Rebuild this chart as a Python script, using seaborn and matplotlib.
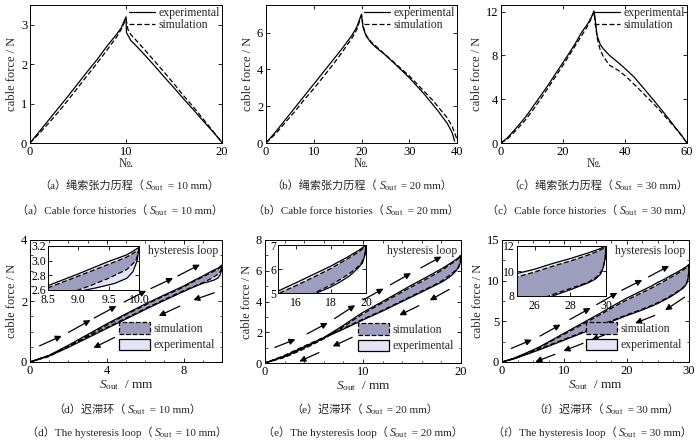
import numpy as np
import matplotlib
matplotlib.use('Agg')
import matplotlib.pyplot as plt
import seaborn as sns
from matplotlib.patches import Patch
from matplotlib.lines import Line2D
from matplotlib.offsetbox import TextArea, HPacker, AnchoredOffsetbox
from matplotlib.ticker import MultipleLocator, FormatStrFormatter

# ---------------- data: cable force histories ----------------
a_exp_x = [0, 1, 2, 3, 4, 5, 6, 7, 8, 9, 9.5, 10, 10.05, 10.5, 11, 12, 13, 14, 15, 16, 17, 18, 19, 19.8, 20]
a_exp_y = [0, 0.3, 0.6, 0.9, 1.2, 1.51, 1.82, 2.12, 2.45, 2.75, 2.92, 3.2, 2.8, 2.6, 2.48, 2.22, 1.95, 1.67, 1.4, 1.12, 0.85, 0.57, 0.3, 0.08, 0]
a_sim_x = [0, 1, 2, 3, 4, 5, 6, 7, 8, 9, 9.5, 10, 10.2, 10.5, 11, 12, 13, 14, 15, 16, 17, 18, 19, 20]
a_sim_y = [0, 0.25, 0.52, 0.8, 1.1, 1.41, 1.72, 2.03, 2.35, 2.68, 2.88, 3.15, 2.88, 2.75, 2.62, 2.35, 2.07, 1.79, 1.5, 1.2, 0.92, 0.62, 0.32, 0]

b_exp_x = [0, 2, 4, 6, 8, 10, 12, 14, 16, 18, 19, 20, 20.3, 20.7, 21, 22, 23, 25, 27, 30, 33, 36, 38, 39, 39.5]
b_exp_y = [0, 0.6, 1.25, 1.9, 2.55, 3.2, 3.85, 4.5, 5.15, 5.85, 6.3, 7.0, 6.3, 6.0, 5.8, 5.45, 5.2, 4.78, 4.3, 3.55, 2.7, 1.75, 1.05, 0.55, 0.1]
b_sim_x = [0, 2, 4, 6, 8, 10, 12, 14, 16, 18, 19, 20, 20.3, 20.7, 21, 22, 25, 30, 35, 38, 39, 40]
b_sim_y = [0, 0.5, 1.1, 1.7, 2.35, 2.95, 3.6, 4.25, 4.95, 5.7, 6.15, 6.95, 6.4, 6.05, 5.85, 5.5, 4.8, 3.65, 2.3, 1.35, 0.9, 0.2]

c_exp_x = [0, 2, 5, 8, 10, 12, 15, 18, 20, 22, 24, 26, 28, 29, 30, 30.3, 30.7, 31, 32, 33, 35, 38, 40, 43, 46, 50, 53, 56, 58, 59.5, 60]
c_exp_y = [0, 0.45, 1.4, 2.4, 3.2, 4.0, 5.2, 6.5, 7.35, 8.2, 9.1, 10.1, 10.9, 11.4, 12.05, 11.5, 10.5, 9.8, 9.0, 8.6, 8.0, 7.3, 6.8, 6.0, 5.0, 3.65, 2.6, 1.5, 0.8, 0.2, 0]
c_sim_x = [0, 2, 5, 8, 10, 12, 15, 18, 20, 22, 24, 26, 28, 29, 30, 30.5, 31, 32, 33, 35, 38, 40, 43, 46, 50, 53, 56, 58, 60]
c_sim_y = [0, 0.35, 1.2, 2.15, 2.9, 3.7, 4.95, 6.25, 7.1, 8.0, 8.9, 9.8, 10.7, 11.3, 11.95, 10.8, 9.6, 8.5, 7.9, 7.1, 6.6, 6.15, 5.35, 4.5, 3.35, 2.4, 1.45, 0.75, 0]

# ---------------- data: hysteresis loops ----------------
d_up_x = [0, 1, 2, 3, 4, 5, 6, 7, 8, 8.5, 9, 9.5, 9.8, 10]
d_up_exp = [0, 0.22, 0.55, 0.9, 1.25, 1.58, 1.9, 2.2, 2.49, 2.66, 2.82, 2.99, 3.08, 3.18]
d_up_sim = [0, 0.18, 0.5, 0.86, 1.21, 1.55, 1.87, 2.17, 2.46, 2.63, 2.79, 2.95, 3.05, 3.15]
d_lo_exp_x = [10, 9.97, 9.9, 9.8, 9.6, 9.3, 9.0, 8.5, 8, 7, 6, 5, 4, 3, 2, 1, 0]
d_lo_exp = [3.18, 3.0, 2.85, 2.76, 2.69, 2.63, 2.58, 2.45, 2.31, 2.02, 1.72, 1.41, 1.1, 0.79, 0.48, 0.2, 0]
d_lo_sim_x = [10, 9.95, 9.8, 9.5, 9.2, 9.0, 8.5, 8, 7, 6, 5, 4, 3, 2, 1, 0]
d_lo_sim = [3.15, 3.0, 2.88, 2.76, 2.66, 2.6, 2.47, 2.34, 2.05, 1.75, 1.44, 1.13, 0.82, 0.51, 0.22, 0]

e_up_x = [0, 2, 4, 6, 8, 10, 12, 14, 15, 16, 17, 18, 19, 19.6, 20]
e_up_exp = [0, 0.42, 1.0, 1.65, 2.45, 3.3, 4.0, 4.72, 5.08, 5.42, 5.77, 6.12, 6.52, 6.78, 7.0]
e_up_sim = [0, 0.36, 0.92, 1.57, 2.37, 3.2, 3.92, 4.62, 4.97, 5.3, 5.65, 6.02, 6.45, 6.72, 6.96]
e_lo_exp_x = [20, 19.95, 19.8, 19.5, 19.2, 19, 18.5, 18, 17.2, 16, 14, 12, 10, 8, 6, 4, 2, 0]
e_lo_exp = [7.0, 6.6, 6.25, 6.0, 5.8, 5.68, 5.45, 5.25, 5.0, 4.62, 4.0, 3.38, 2.8, 2.2, 1.62, 1.05, 0.45, 0]
e_lo_sim_x = [20, 19.9, 19.7, 19.4, 19, 18.5, 18, 17, 16, 14, 12, 10, 8, 6, 4, 2, 0]
e_lo_sim = [6.96, 6.5, 6.2, 6.0, 5.78, 5.55, 5.33, 4.98, 4.68, 4.05, 3.43, 2.85, 2.25, 1.67, 1.1, 0.5, 0]

f_up_x = [0, 2, 4, 6, 8, 10, 12, 14, 16, 18, 20, 22, 24, 25, 26, 27, 28, 29, 29.6, 30]
f_up_exp = [0, 0.5, 1.15, 1.85, 2.7, 3.55, 4.4, 5.25, 6.1, 7.0, 7.85, 8.6, 9.35, 9.8, 10.15, 10.6, 11.0, 11.45, 11.75, 12.0]
f_up_sim = [0, 0.42, 1.05, 1.75, 2.6, 3.42, 4.25, 5.08, 5.92, 6.8, 7.62, 8.35, 9.1, 9.52, 9.92, 10.38, 10.8, 11.28, 11.62, 11.9]
f_lo_exp_x = [30, 29.95, 29.85, 29.7, 29.4, 29, 28, 27, 26, 25, 24, 22, 20, 18, 16, 14, 12, 10, 8, 6, 4, 2, 0]
f_lo_exp = [12.0, 11.0, 10.3, 9.75, 9.35, 9.05, 8.5, 8.0, 7.6, 7.2, 6.85, 6.25, 5.7, 5.1, 4.5, 3.9, 3.3, 2.7, 2.1, 1.5, 0.95, 0.4, 0]
f_lo_sim_x = [30, 29.95, 29.8, 29.5, 29, 28, 27, 26.8, 26, 25, 24, 22, 20, 18, 16, 14, 12, 10, 8, 6, 4, 2, 0]
f_lo_sim = [11.9, 10.9, 10.1, 9.55, 9.1, 8.6, 8.12, 8.0, 7.7, 7.3, 6.95, 6.35, 5.8, 5.2, 4.6, 4.0, 3.4, 2.8, 2.2, 1.6, 1.0, 0.45, 0]

# arrow tail positions (x) for loading (up) and unloading (down) arrows
d_arrow_up = [0.5, 2.0, 3.35, 4.9, 6.3, 7.7]
d_arrow_dn = [2.8, 4.4, 6.0, 7.8, 9.6]
e_arrow_up = [1.0, 4.3, 7.1, 10.0, 12.8, 15.9]
e_arrow_dn = [5.5, 8.9, 11.6, 15.7, 18.8]
f_arrow_up = [1.5, 6.1, 10.9, 15.2, 19.2, 23.5]
f_arrow_dn = [8.5, 13.0, 17.5, 24.5, 29.3]

captions_cn = ["（a）绳索张力历程（", "（b）绳索张力历程（", "（c）绳索张力历程（",
               "（d）迟滞环（", "（e）迟滞环（", "（f）迟滞环（"]
captions_en = ["（a）Cable force histories（", "（b）Cable force histories（", "（c）Cable force histories（",
               "（d）The hysteresis loop（", "（e）The hysteresis loop（", "（f）The hysteresis loop（"]
caption_sout = ["10", "20", "30", "10", "20", "30"]

# ---------------- style ----------------
sns.set_theme(style='ticks')
plt.rcParams['font.family'] = ['Liberation Serif', 'Noto Sans CJK SC', 'DejaVu Sans']
plt.rcParams.update({
    'mathtext.fontset': 'custom',
    'mathtext.rm': 'Liberation Serif',
    'mathtext.it': 'Liberation Serif:italic',
    'mathtext.bf': 'Liberation Serif:bold',
    'font.size': 9,
    'axes.linewidth': 0.7,
    'axes.edgecolor': 'black',
    'xtick.direction': 'in', 'ytick.direction': 'in',
    'xtick.top': True, 'ytick.right': True,
    'xtick.major.size': 3, 'ytick.major.size': 3,
    'xtick.minor.size': 1.8, 'ytick.minor.size': 1.8,
    'xtick.major.width': 0.6, 'ytick.major.width': 0.6,
    'xtick.minor.width': 0.5, 'ytick.minor.width': 0.5,
    'xtick.labelsize': 9, 'ytick.labelsize': 9,
    'xtick.major.pad': 2, 'ytick.major.pad': 2,
    'xtick.color': 'black', 'ytick.color': 'black',
})

W, H = 700, 442
fig = plt.figure(figsize=(7.0, 4.42), dpi=100)


def px_axes(l, t, r, b):
    return fig.add_axes([l / W, 1 - b / H, (r - l) / W, (b - t) / H])


DASH = (0, (4, 2))
SIM_C = '#9d9dbd'
EXP_C = '#e4e4f6'

# ---------------- top row ----------------
top_specs = [
    ((30, 5, 222, 143), a_exp_x, a_exp_y, a_sim_x, a_sim_y, (0, 20), [0, 10, 20], (0, 3.5), [0, 1, 2, 3]),
    ((266, 5, 457, 143), b_exp_x, b_exp_y, b_sim_x, b_sim_y, (0, 40), [0, 10, 20, 30, 40], (0, 7.5), [0, 2, 4, 6]),
    ((501, 5, 687, 143), c_exp_x, c_exp_y, c_sim_x, c_sim_y, (0, 60), [0, 20, 40, 60], (0, 12.6), [0, 4, 8, 12]),
]
for box, ex, ey, sx, sy, xl, xt, yl, yt in top_specs:
    ax = px_axes(*box)
    sns.lineplot(x=ex, y=ey, ax=ax, color='black', lw=0.9, sort=False, estimator=None)
    sns.lineplot(x=sx, y=sy, ax=ax, color='black', lw=0.9, linestyle=DASH, sort=False, estimator=None)
    ax.set_xlim(*xl)
    ax.set_ylim(*yl)
    ax.set_xticks(xt)
    ax.set_yticks(yt)
    ax.set_xlabel('№.', labelpad=0, fontsize=9)
    ax.set_ylabel('cable force / N', labelpad=2, fontsize=9)
    handles = [Line2D([], [], color='black', lw=0.9),
               Line2D([], [], color='black', lw=0.9, linestyle=DASH)]
    ax.legend(handles, ['experimental', 'simulation'], loc='upper right', frameon=False,
              fontsize=8.5, handlelength=2.2, handletextpad=0.3, labelspacing=0.0,
              borderaxespad=0.1, borderpad=0.1, bbox_to_anchor=(1.0, 1.0))


# ---------------- bottom row ----------------
def draw_loop(ax, upx, upe, ups, lex, le, lsx, ls, lw=0.9):
    px_e = list(upx) + list(lex)
    py_e = list(upe) + list(le)
    px_s = list(upx) + list(lsx)
    py_s = list(ups) + list(ls)
    ax.fill(px_e, py_e, facecolor=EXP_C, edgecolor='none', zorder=1)
    ax.fill(px_s, py_s, facecolor=SIM_C, edgecolor='none', zorder=2)
    sns.lineplot(x=px_s, y=py_s, ax=ax, color='black', lw=lw, linestyle=DASH, sort=False, estimator=None, zorder=3)
    sns.lineplot(x=px_e, y=py_e, ax=ax, color='black', lw=lw, sort=False, estimator=None, zorder=4)


bot_specs = [
    ((30, 240, 222, 362), d_up_x, d_up_exp, d_up_sim, d_lo_exp_x, d_lo_exp, d_lo_sim_x, d_lo_sim,
     (0, 10), [0, 4, 8], 1, (0, 4), [0, 2, 4], 0.5, d_arrow_up, d_arrow_dn, 1.15, 0.42,
     (48, 246, 139, 290), (8.5, 10), [8.5, 9.0, 9.5, 10.0], (2.6, 3.2), [2.6, 2.8, 3.0, 3.2], '%.1f'),
    ((265, 240, 461, 363), e_up_x, e_up_exp, e_up_sim, e_lo_exp_x, e_lo_exp, e_lo_sim_x, e_lo_sim,
     (0, 20), [0, 10, 20], 2, (0, 8), [0, 2, 4, 6, 8], 1, e_arrow_up, e_arrow_dn, 2.1, 0.8,
     (278, 245, 366, 293), (15, 20), [16, 18, 20], (5, 7), [5, 6, 7], '%d'),
    ((502, 240, 689, 362), f_up_x, f_up_exp, f_up_sim, f_lo_exp_x, f_lo_exp, f_lo_sim_x, f_lo_sim,
     (0, 30), [0, 10, 20, 30], 2.5, (0, 15), [0, 5, 10, 15], 2.5, f_arrow_up, f_arrow_dn, 3.3, 1.3,
     (517, 246, 606, 296), (25, 30), [26, 28, 30], (8, 12), [8, 10, 12], '%d'),
]

for (box, upx, upe, ups, lex, le, lsx, ls, xl, xt, xm, yl, yt, ym, aup, adn, adx, aoff,
     ibox, ixl, ixt, iyl, iyt, ifmt) in bot_specs:
    ax = px_axes(*box)
    draw_loop(ax, upx, upe, ups, lex, le, lsx, ls)
    ax.set_xlim(*xl)
    ax.set_ylim(*yl)
    ax.set_xticks(xt)
    ax.set_yticks(yt)
    ax.xaxis.set_minor_locator(MultipleLocator(xm))
    ax.yaxis.set_minor_locator(MultipleLocator(ym))
    ax.tick_params(which='both', top=True, right=True, direction='in')
    ax.set_xlabel(r'$S_{\mathrm{out}}$  / mm', labelpad=1, fontsize=9.5)
    ax.set_ylabel('cable force / N', labelpad=2, fontsize=9)
    # arrows along loop
    lo_sorted_x = np.array(lex)[::-1]
    lo_sorted_y = np.array(le)[::-1]
    for x0 in aup:
        x1 = x0 + adx
        y0 = np.interp(x0, upx, upe) + aoff
        y1 = np.interp(x1, upx, upe) + aoff
        ax.annotate('', xy=(x1, y1), xytext=(x0, y0),
                    arrowprops=dict(arrowstyle='-|>', color='black', lw=0.9, mutation_scale=9,
                                    shrinkA=0, shrinkB=0), zorder=5)
    for x0 in adn:
        x1 = x0 - adx * 0.95
        y0 = np.interp(x0, lo_sorted_x, lo_sorted_y) - aoff
        y1 = np.interp(x1, lo_sorted_x, lo_sorted_y) - aoff
        ax.annotate('', xy=(x1, y1), xytext=(x0, y0),
                    arrowprops=dict(arrowstyle='-|>', color='black', lw=0.9, mutation_scale=9,
                                    shrinkA=0, shrinkB=0), zorder=5)
    ax.text(0.98, 0.96, 'hysteresis loop', transform=ax.transAxes, ha='right', va='top', fontsize=8.5)
    handles = [Patch(facecolor=SIM_C, edgecolor='black', linestyle='--', lw=0.9),
               Patch(facecolor=EXP_C, edgecolor='black', lw=0.9)]
    ax.legend(handles, ['simulation', 'experimental'], loc='lower right', frameon=False,
              fontsize=8.5, handlelength=2.6, handleheight=1.1, handletextpad=0.3,
              labelspacing=0.3, borderaxespad=0.2, bbox_to_anchor=(1.0, 0.03))
    # inset
    ia = px_axes(*ibox)
    ia.set_facecolor('white')
    draw_loop(ia, upx, upe, ups, lex, le, lsx, ls, lw=0.9)
    ia.set_xlim(*ixl)
    ia.set_ylim(*iyl)
    ia.set_xticks(ixt)
    ia.set_yticks(iyt)
    ia.xaxis.set_major_formatter(FormatStrFormatter(ifmt))
    ia.yaxis.set_major_formatter(FormatStrFormatter(ifmt))
    ia.tick_params(which='both', top=True, right=True, direction='in', pad=1.5, labelsize=8.5)
    ia.tick_params(axis='x', pad=3)
    ia.set_xlabel('')
    ia.set_ylabel('')
    ia.set_zorder(6)

# ---------------- captions ----------------
FAM = ['Liberation Serif', 'Noto Sans CJK SC']


def caption(xc, yc, pre, val):
    boxes = [TextArea(pre, textprops=dict(family=FAM, size=8)),
             TextArea(r'$S_{\mathrm{out}}$', textprops=dict(size=8.5)),
             TextArea(' = ' + val + ' mm）', textprops=dict(family=FAM, size=8))]
    pack = HPacker(children=boxes, align='baseline', pad=0, sep=1)
    ab = AnchoredOffsetbox(loc='center', child=pack, bbox_to_anchor=(xc / W, 1 - yc / H),
                           bbox_transform=fig.transFigure, frameon=False, pad=0, borderpad=0)
    fig.add_artist(ab)


cx_top_cn = [129, 362, 598]
cx_top_en = [120, 356, 590]
cx_bot_cn = [127, 365, 606]
cx_bot_en = [127, 363, 592]
for i in range(3):
    caption(cx_top_cn[i], 186, captions_cn[i], caption_sout[i])
    caption(cx_top_en[i], 211, captions_en[i], caption_sout[i])
    caption(cx_bot_cn[i], 410, captions_cn[i + 3], caption_sout[i + 3])
    caption(cx_bot_en[i], 433, captions_en[i + 3], caption_sout[i + 3])

fig.savefig('out.png', dpi=100)
